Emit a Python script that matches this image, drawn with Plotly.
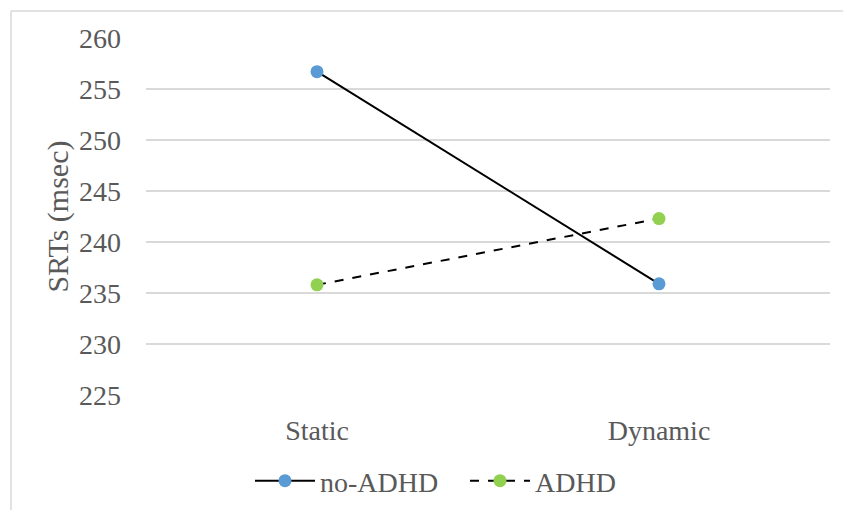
import plotly.graph_objects as go

categories = ["Static", "Dynamic"]
no_adhd = [256.7, 235.9]
adhd = [235.8, 242.3]
y_ticks = [225, 230, 235, 240, 245, 250, 255, 260]

W, H = 843, 510
L, R, T, B = 146, 13, 38, 115
pw, ph = W - L - R, H - T - B

def px_x(p):
    return (p - L) / pw

def px_y(p):
    return (H - B - p) / ph

font = dict(family="Liberation Serif", size=28, color="#595959")
title_font = dict(family="Liberation Serif", size=30, color="#595959")

fig = go.Figure()
fig.add_trace(go.Scatter(
    x=categories, y=no_adhd, name="no-ADHD", mode="lines+markers",
    line=dict(color="black", width=2),
    marker=dict(color="#5B9BD5", size=13),
))
fig.add_trace(go.Scatter(
    x=categories, y=adhd, name="ADHD", mode="lines+markers",
    line=dict(color="black", width=2, dash="dash"),
    marker=dict(color="#92D050", size=13),
))

fig.update_layout(
    width=W, height=H,
    margin=dict(l=L, r=R, t=T, b=B, autoexpand=False),
    paper_bgcolor="white", plot_bgcolor="white",
    font=font,
    showlegend=True,
    legend=dict(orientation="h", x=px_x(250), xanchor="left", y=px_y(481), yanchor="middle",
                font=font, itemwidth=60, entrywidth=140, entrywidthmode="pixels",
                traceorder="normal"),
    xaxis=dict(type="category", range=[-0.5, 1.5], showgrid=False, zeroline=False,
               showline=False, ticks="", tickfont=font, ticklabelstandoff=16),
    yaxis=dict(range=[225, 260], tickvals=y_ticks, showgrid=True, gridcolor="#D9D9D9",
               gridwidth=1.5, zeroline=False, showline=False, ticks="", tickfont=font,
               ticklabelstandoff=24,
               title=dict(text="SRTs (msec)", font=title_font, standoff=1)),
    shapes=[
        dict(type="line", xref="paper", yref="paper", x0=px_x(11), x1=px_x(845),
             y0=px_y(11), y1=px_y(11), line=dict(color="#D9D9D9", width=1.5)),
        dict(type="line", xref="paper", yref="paper", x0=px_x(11), x1=px_x(11),
             y0=px_y(11), y1=px_y(512), line=dict(color="#D9D9D9", width=1.5)),
    ],
)

fig.write_html("out.html")
